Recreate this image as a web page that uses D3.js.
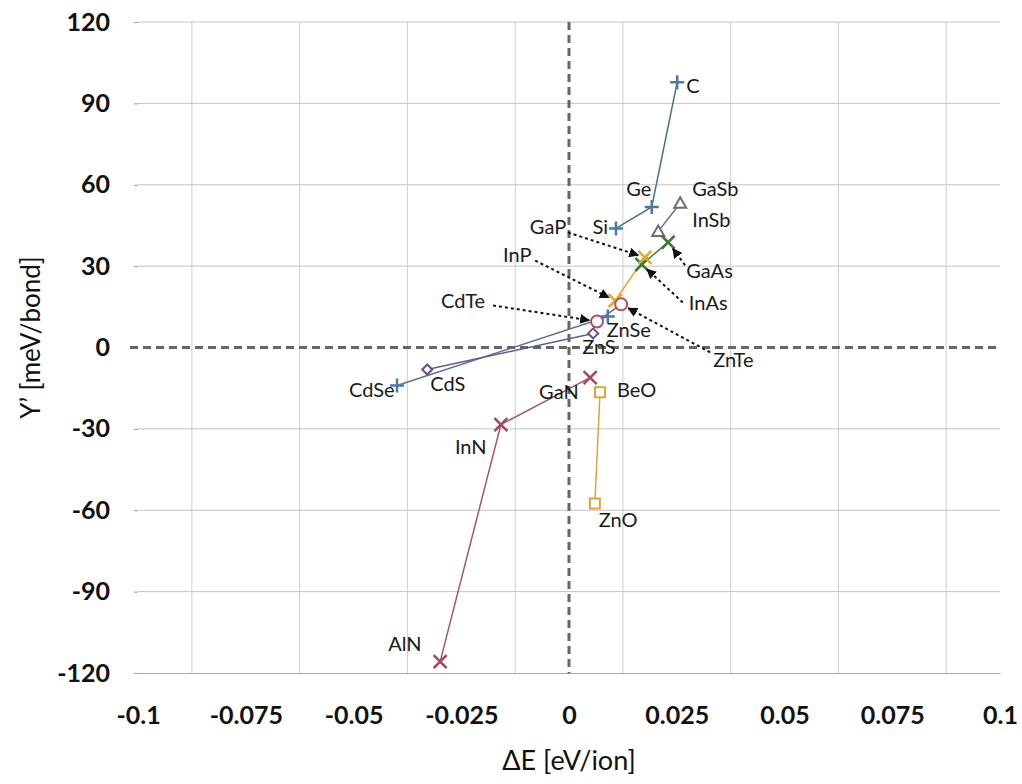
<!DOCTYPE html>
<html>
<head>
<meta charset="utf-8">
<script src="https://cdn.jsdelivr.net/npm/d3@7"></script>
<style>
  body { margin: 0; background: #fff; }
  svg { font-family: Lato, "Open Sans", sans-serif; }
</style>
</head>
<body>
<div id="graf"></div>
<script>
// ΔE vs Y' (meV/bond)

// series: [name, dE, Y']
serieIV    = [['Si', 0.0109, 43.9], ['Ge', 0.0192, 51.8], ['C', 0.0251, 97.8]]
serieSb    = [['InSb', 0.0207, 42.8], ['GaSb', 0.0258, 53.2]]
serieAs    = [['InAs', 0.0169, 30.6], ['GaAs', 0.0230, 38.8]]
serieP     = [['InP', 0.0107, 17.3], ['GaP', 0.0176, 33.2]]
serieTe    = [['CdTe', 0.0065, 9.6], ['ZnTe', 0.0121, 15.9]]
serieSe    = [['CdSe', -0.0399, -14.0], ['ZnSe', 0.0090, 11.4]]
serieS     = [['CdS', -0.0329, -8.1], ['ZnS', 0.0056, 5.2]]
serieN     = [['AlN', -0.0299, -115.8], ['InN', -0.0158, -28.4], ['GaN', 0.0049, -11.1]]
serieO     = [['ZnO', 0.0060, -57.5], ['BeO', 0.0072, -16.5]]

xTicks = [-0.1, -0.075, -0.05, -0.025, 0, 0.025, 0.05, 0.075, 0.1]
xTickLabels = ['-0.1', '-0.075', '-0.05', '-0.025', '0', '0.025', '0.05', '0.075', '0.1']
yTicks = [-120, -90, -60, -30, 0, 30, 60, 90, 120]
xGrid = [-0.0875, -0.0625, -0.0375, -0.0125, 0.0125, 0.0375, 0.0625, 0.0875]

series = [
  { datos: serieIV, color: '#4a7aa5', linea: '#4f6f8f', marca: 'plus' },
  { datos: serieSb, color: '#6e6e6e', linea: '#6e6e6e', marca: 'tri' },
  { datos: serieAs, color: '#3d7a3a', linea: '#3d7a3a', marca: 'x' },
  { datos: serieP,  color: '#e2a92e', linea: '#d9a43a', marca: 'x' },
  { datos: serieTe, color: '#b4505e', linea: '#b4505e', marca: 'circle' },
  { datos: serieSe, color: '#4a7aa5', linea: '#5a7290', marca: 'plus' },
  { datos: serieS,  color: '#6b4c8e', linea: '#5f5f86', marca: 'diamond' },
  { datos: serieN,  color: '#a2485a', linea: '#a2586a', marca: 'x' },
  { datos: serieO,  color: '#d8a640', linea: '#d8a640', marca: 'square' }
]

// etiquetas: nombre -> [dx, dy, anchor] en px respecto al punto
etiquetas = {
  C: [9, 6, 'start'], Ge: [-13, -16, 'middle'], Si: [-8, 1, 'end'],
  GaSb: [12, -12, 'start'], InSb: [34, -9, 'start'],
  GaAs: [18, 31, 'start'], InAs: [47, 40, 'start'],
  GaP: [-115, -29, 'start'], InP: [-112, -44, 'start'],
  CdTe: [-156, -19, 'start'], ZnTe: [92, 58, 'start'],
  ZnSe: [-1, 15, 'start'], ZnS: [-11, 16, 'start'],
  CdSe: [-48, 6, 'start'], CdS: [3, 16, 'start'],
  GaN: [-51, 16, 'start'], BeO: [17, 0, 'start'],
  InN: [-46, 24, 'start'], ZnO: [4, 18, 'start'], AlN: [-52, -16, 'start']
}

// flechas punteadas: [nombre, x0, y0 (px respecto al punto), recorte final]
flechas = [
  ['GaP', -77, -25, 7], ['InP', -80, -40, 7], ['CdTe', -104, -16, 8],
  ['GaAs', 17, 23, 8], ['InAs', 41, 38, 7], ['ZnTe', 89, 48, 8]
]

ancho_total = 1022
alto_total = 784
margins = { top: 22, left: 138, right: 22, bottom: 111 }
ancho = ancho_total - margins.left - margins.right
alto = alto_total - margins.top - margins.bottom

svg = d3.select('#graf').append('svg')
  .attr('width', ancho_total)
  .attr('height', alto_total)

svg.append('defs').append('marker')
  .attr('id', 'punta')
  .attr('viewBox', '0 0 10 10')
  .attr('refX', 9).attr('refY', 5)
  .attr('markerWidth', 5).attr('markerHeight', 5)
  .attr('markerUnits', 'strokeWidth')
  .attr('orient', 'auto')
  .append('path')
  .attr('d', 'M0,0 L10,5 L0,10 z')
  .attr('fill', '#111')

g = svg.append('g')
  .attr('transform', `translate(${margins.left}, ${margins.top})`)

x = d3.scaleLinear().domain([-0.1, 0.1]).range([0, ancho])
y = d3.scaleLinear().domain([-120, 120]).range([alto, 0])

// rejilla
g.selectAll('.gx').data(xGrid).join('line')
  .attr('x1', d => x(d)).attr('x2', d => x(d))
  .attr('y1', 0).attr('y2', alto)
  .attr('stroke', '#cfcfcf').attr('stroke-width', 1)
g.selectAll('.gy').data(yTicks.filter(d => d !== 0 && d !== -120)).join('line')
  .attr('x1', 0).attr('x2', ancho)
  .attr('y1', d => y(d)).attr('y2', d => y(d))
  .attr('stroke', '#c4c4c4').attr('stroke-width', 1)

// eje x
xAxisCall = d3.axisBottom(x).tickValues(xTicks)
  .tickFormat((d, i) => xTickLabels[i]).tickSize(0).tickPadding(33)
xAxis = g.append('g').attr('transform', `translate(0, ${alto})`).call(xAxisCall)
xAxis.select('.domain').attr('stroke', '#a8a8a8').attr('stroke-width', 1.2)
xAxis.selectAll('text').attr('font-size', 25).attr('font-weight', 'bold')
  .attr('fill', '#111').attr('font-family', 'Lato, sans-serif')

// eje y
yAxisCall = d3.axisLeft(y).tickValues(yTicks).tickFormat(d => String(d))
  .tickSize(4).tickPadding(24)
yAxis = g.append('g').call(yAxisCall)
yAxis.select('.domain').remove()
yAxis.selectAll('line').attr('stroke', '#999')
yAxis.selectAll('text').attr('font-size', 25).attr('font-weight', 'bold')
  .attr('fill', '#111').attr('font-family', 'Lato, sans-serif')

// ejes cero punteados
g.append('line')
  .attr('x1', -8).attr('x2', ancho).attr('y1', y(0)).attr('y2', y(0))
  .attr('stroke', '#666').attr('stroke-width', 3).attr('stroke-dasharray', '8,5')
g.append('line')
  .attr('x1', x(0)).attr('x2', x(0)).attr('y1', 0).attr('y2', alto)
  .attr('stroke', '#666').attr('stroke-width', 3).attr('stroke-dasharray', '8,5')

// títulos
svg.append('text')
  .attr('x', margins.left + ancho / 2).attr('y', 770)
  .attr('text-anchor', 'middle').attr('font-size', 27).attr('fill', '#111')
  .text('ΔE [eV/ion]')
svg.append('text')
  .attr('transform', `translate(40, ${margins.top + alto / 2 - 10}) rotate(-90)`)
  .attr('text-anchor', 'middle').attr('font-size', 26).attr('fill', '#111')
  .text('Y’ [meV/bond]')

// líneas de series
lineaGen = d3.line().x(d => x(d[1])).y(d => y(d[2]))
series.forEach(s => {
  g.append('path')
    .attr('d', lineaGen(s.datos))
    .attr('fill', 'none')
    .attr('stroke', s.linea)
    .attr('stroke-width', 1.5)
})

// marcas
simbolos = {
  plus: 'M-7,0 L7,0 M0,-7 L0,7',
  x: 'M-6.5,-6.5 L6.5,6.5 M-6.5,6.5 L6.5,-6.5',
  tri: 'M0,-6 L6,4.5 L-6,4.5 Z',
  circle: 'M6,0 A6,6 0 1,1 -6,0 A6,6 0 1,1 6,0 Z',
  square: 'M-5,-5 L5,-5 L5,5 L-5,5 Z',
  diamond: 'M0,-5 L5,0 L0,5 L-5,0 Z'
}
series.forEach(s => {
  g.selectAll(null).data(s.datos).join('path')
    .attr('transform', d => `translate(${x(d[1])}, ${y(d[2])})`)
    .attr('d', simbolos[s.marca])
    .attr('fill', (s.marca === 'plus' || s.marca === 'x') ? 'none' : '#fff')
    .attr('stroke', s.color)
    .attr('stroke-width', (s.marca === 'plus' || s.marca === 'x') ? 2.5 : 2)
})

// etiquetas
todos = series.flatMap(s => s.datos)
punto = {}
todos.forEach(d => { punto[d[0]] = [x(d[1]), y(d[2])] })

g.selectAll('.etq').data(todos).join('text')
  .attr('x', d => punto[d[0]][0] + etiquetas[d[0]][0])
  .attr('y', d => punto[d[0]][1] + etiquetas[d[0]][1])
  .attr('text-anchor', d => etiquetas[d[0]][2])
  .attr('dominant-baseline', 'middle')
  .attr('font-size', 20).attr('fill', '#1a1a1a')
  .text(d => d[0])

// flechas
flechas.forEach(f => {
  p = punto[f[0]]
  x0 = p[0] + f[1], y0 = p[1] + f[2]
  dx = p[0] - x0, dy = p[1] - y0
  len = Math.sqrt(dx * dx + dy * dy)
  x1 = p[0] - dx / len * f[3], y1 = p[1] - dy / len * f[3]
  g.append('line')
    .attr('x1', x0).attr('y1', y0).attr('x2', x1).attr('y2', y1)
    .attr('stroke', '#111').attr('stroke-width', 2)
    .attr('stroke-dasharray', '3,3')
    .attr('marker-end', 'url(#punta)')
})
</script>
</body>
</html>
